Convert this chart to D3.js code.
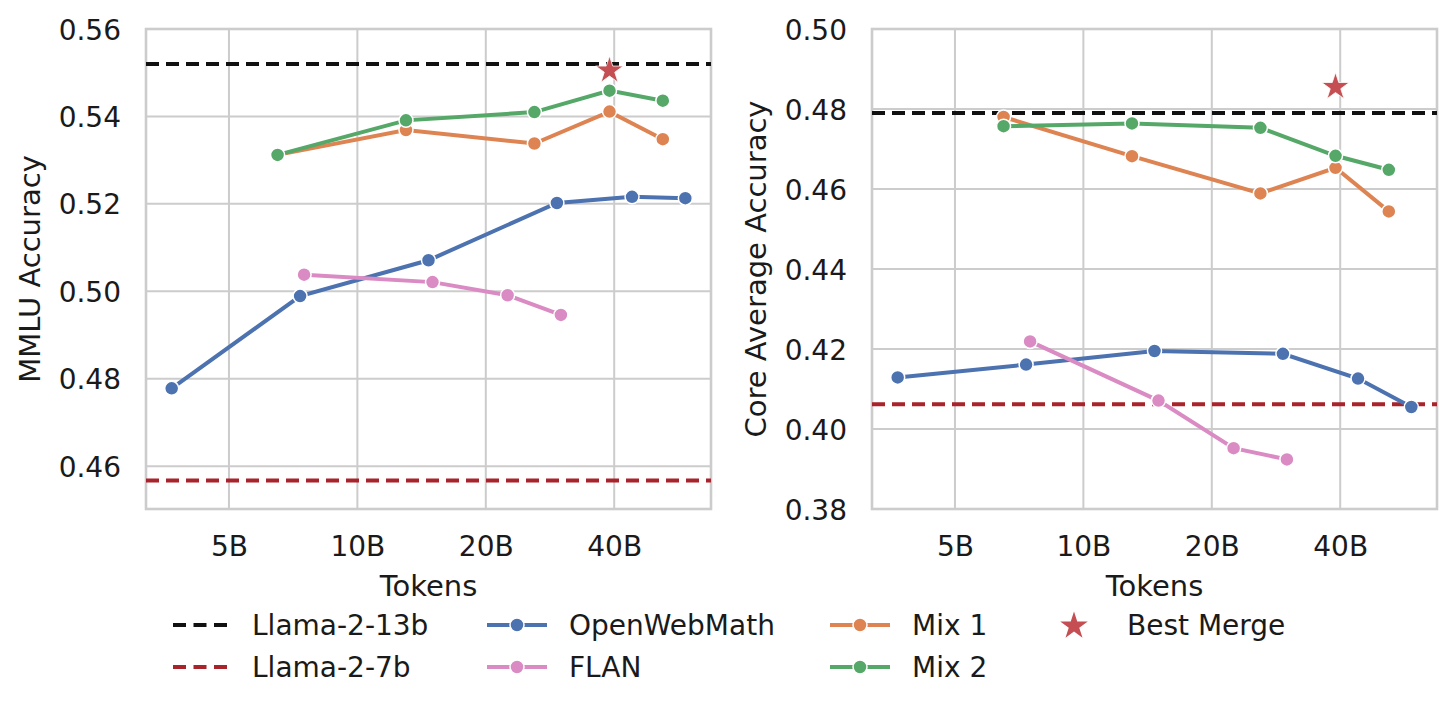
<!DOCTYPE html>
<html>
<head>
<meta charset="utf-8">
<script src="https://cdn.jsdelivr.net/npm/d3@7"></script>
<style>
  body { margin: 0; background: #fff; }
  text { font-family: "DejaVu Sans", sans-serif; fill: #1a1a1a; }
</style>
</head>
<body>
<div id="chart"></div>
<script>
// tokens in billions
var owmTokens = [3.67, 7.34, 14.68, 29.36, 44.04, 58.72]
var flanTokens = [7.5, 15, 22.5, 30]
var mixTokens = [6.5, 13, 26, 39, 52]
var bestTokens = 39
var xTicks = [5, 10, 20, 40]

// MMLU panel
var owmMMLU = [0.4778, 0.4989, 0.5071, 0.5202, 0.5216, 0.5213]
var flanMMLU = [0.5038, 0.5021, 0.4991, 0.4946]
var mix1MMLU = [0.5312, 0.5369, 0.5338, 0.5411, 0.5348]
var mix2MMLU = [0.5312, 0.5391, 0.5410, 0.5459, 0.5436]
var bestMMLU = 0.5505
var llama13MMLU = 0.5520
var llama7MMLU = 0.4567
var mmluTicks = [0.46, 0.48, 0.50, 0.52, 0.54, 0.56]

// Core average panel
var owmCore = [0.4129, 0.4161, 0.4195, 0.4188, 0.4126, 0.4055]
var flanCore = [0.4219, 0.4071, 0.3952, 0.3924]
var mix1Core = [0.4780, 0.4682, 0.4589, 0.4653, 0.4544]
var mix2Core = [0.4757, 0.4764, 0.4753, 0.4683, 0.4648]
var bestCore = 0.4855
var llama13Core = 0.4790
var llama7Core = 0.4062
var coreTicks = [0.38, 0.40, 0.42, 0.44, 0.46, 0.48, 0.50]

const W = 1456
const H = 713
const cBlue = "#4C72B0", cOrange = "#DD8452", cGreen = "#55A868",
      cPink = "#DA8BC3", cRed = "#C44E52", cDark = "#a8232a", cGrid = "#cccccc"
const lw = 4

var svg = d3.select("#chart").append("svg")
    .attr("width", W).attr("height", H)

function drawPanel(p)
{
    var g = svg.append("g")

    var x = d3.scaleLog()
        .domain([3.195, 67.45])
        .range([p.left, p.left + 565])
    var y = d3.scaleLinear()
        .domain(p.yDomain)
        .range([509, 29])

    // grid
    g.selectAll(".vg").data(xTicks).enter().append("line")
        .attr("x1", d => x(d)).attr("x2", d => x(d))
        .attr("y1", 29).attr("y2", 509)
        .style("stroke", cGrid).style("stroke-width", 2)
    g.selectAll(".hg").data(p.yTicks).enter().append("line")
        .attr("x1", p.left).attr("x2", p.left + 565)
        .attr("y1", d => y(d)).attr("y2", d => y(d))
        .style("stroke", cGrid).style("stroke-width", 2)
    g.append("rect")
        .attr("x", p.left).attr("y", 29)
        .attr("width", 565).attr("height", 480)
        .style("fill", "none").style("stroke", cGrid).style("stroke-width", 2.6)

    // axes (labels only, no tick marks)
    var xAxis = g.append("g").attr("transform", "translate(0,509)")
        .call(d3.axisBottom(x).tickValues(xTicks).tickFormat(d => d + "B").tickSize(0).tickPadding(0))
    xAxis.select(".domain").remove()
    xAxis.selectAll("text").attr("y", 47).attr("dy", 0)
        .style("font-size", "28px").style("font-family", "DejaVu Sans").style("fill", "#1a1a1a")

    var yAxis = g.append("g").attr("transform", "translate(" + p.left + ",0)")
        .call(d3.axisLeft(y).tickValues(p.yTicks).tickFormat(d3.format(".2f")).tickSize(0).tickPadding(0))
    yAxis.select(".domain").remove()
    yAxis.selectAll("text").attr("x", -25).attr("dy", "0.36em")
        .style("font-size", "28px").style("font-family", "DejaVu Sans").style("fill", "#1a1a1a")

    g.append("text")
        .attr("x", x.range()[0] + 282.5).attr("y", 596)
        .attr("text-anchor", "middle")
        .style("font-size", "29px")
        .text("Tokens")
    g.append("text")
        .attr("transform", "translate(" + (p.left - 106) + ",269) rotate(-90)")
        .attr("text-anchor", "middle")
        .style("font-size", "29px")
        .text(p.yLabel)

    // reference lines
    g.append("line")
        .attr("x1", p.left).attr("x2", p.left + 565)
        .attr("y1", y(p.llama13)).attr("y2", y(p.llama13))
        .style("stroke", "#111").style("stroke-width", lw).style("stroke-dasharray", "13,7")
    g.append("line")
        .attr("x1", p.left).attr("x2", p.left + 565)
        .attr("y1", y(p.llama7)).attr("y2", y(p.llama7))
        .style("stroke", cDark).style("stroke-width", lw).style("stroke-dasharray", "13,7")

    var line = d3.line().x(d => x(d[0])).y(d => y(d[1]))
    p.series.forEach(function(s) {
        var pts = d3.zip(s.tokens, s.values)
        g.append("path")
            .datum(pts)
            .attr("d", line)
            .style("fill", "none")
            .style("stroke", s.color)
            .style("stroke-width", lw)
        g.selectAll(null).data(pts).enter().append("circle")
            .attr("cx", d => x(d[0]))
            .attr("cy", d => y(d[1]))
            .attr("r", 7)
            .style("fill", s.color)
            .style("stroke", "#fff")
            .style("stroke-width", 1.5)
    })

    g.append("path")
        .attr("d", d3.symbol(d3.symbolStar, 235)())
        .attr("transform", "translate(" + x(bestTokens) + "," + y(p.best) + ")")
        .style("fill", cRed)
        .style("stroke", "#fff")
        .style("stroke-width", 0.8)
}

drawPanel({
    left: 146,
    yDomain: [0.4502, 0.56],
    yTicks: mmluTicks,
    yLabel: "MMLU Accuracy",
    llama13: llama13MMLU,
    llama7: llama7MMLU,
    best: bestMMLU,
    series: [
        {tokens: owmTokens, values: owmMMLU, color: cBlue},
        {tokens: flanTokens, values: flanMMLU, color: cPink},
        {tokens: mixTokens, values: mix1MMLU, color: cOrange},
        {tokens: mixTokens, values: mix2MMLU, color: cGreen}
    ]
})

drawPanel({
    left: 872,
    yDomain: [0.38, 0.50],
    yTicks: coreTicks,
    yLabel: "Core Average Accuracy",
    llama13: llama13Core,
    llama7: llama7Core,
    best: bestCore,
    series: [
        {tokens: owmTokens, values: owmCore, color: cBlue},
        {tokens: flanTokens, values: flanCore, color: cPink},
        {tokens: mixTokens, values: mix1Core, color: cOrange},
        {tokens: mixTokens, values: mix2Core, color: cGreen}
    ]
})

// legend
var legendItems = [
    {label: "Llama-2-13b", kind: "dash", color: "#111", x: 173, row: 0},
    {label: "Llama-2-7b", kind: "dash", color: cDark, x: 173, row: 1},
    {label: "OpenWebMath", kind: "marker", color: cBlue, x: 487, row: 0},
    {label: "FLAN", kind: "marker", color: cPink, x: 487, row: 1},
    {label: "Mix 1", kind: "marker", color: cOrange, x: 830, row: 0},
    {label: "Mix 2", kind: "marker", color: cGreen, x: 830, row: 1},
    {label: "Best Merge", kind: "star", color: cRed, x: 1044, row: 0}
]
var rowY = [625, 667]
var lg = svg.append("g")
legendItems.forEach(function(it) {
    var cy = rowY[it.row]
    if (it.kind === "dash") {
        lg.append("line")
            .attr("x1", it.x).attr("x2", it.x + 55)
            .attr("y1", cy).attr("y2", cy)
            .style("stroke", it.color).style("stroke-width", lw).style("stroke-dasharray", "13,7.5")
    } else if (it.kind === "marker") {
        lg.append("line")
            .attr("x1", it.x).attr("x2", it.x + 60)
            .attr("y1", cy).attr("y2", cy)
            .style("stroke", it.color).style("stroke-width", lw)
        lg.append("circle")
            .attr("cx", it.x + 30).attr("cy", cy).attr("r", 7)
            .style("fill", it.color).style("stroke", "#fff").style("stroke-width", 1.5)
    } else {
        lg.append("path")
            .attr("d", d3.symbol(d3.symbolStar, 235)())
            .attr("transform", "translate(" + (it.x + 30) + "," + (cy + 1) + ")")
            .style("fill", it.color)
    }
    var tx = it.kind === "dash" ? it.x + 79 : (it.kind === "star" ? it.x + 83 : it.x + 82)
    lg.append("text")
        .attr("x", tx).attr("y", cy + 10)
        .style("font-size", "28px")
        .text(it.label)
})
</script>
</body>
</html>
